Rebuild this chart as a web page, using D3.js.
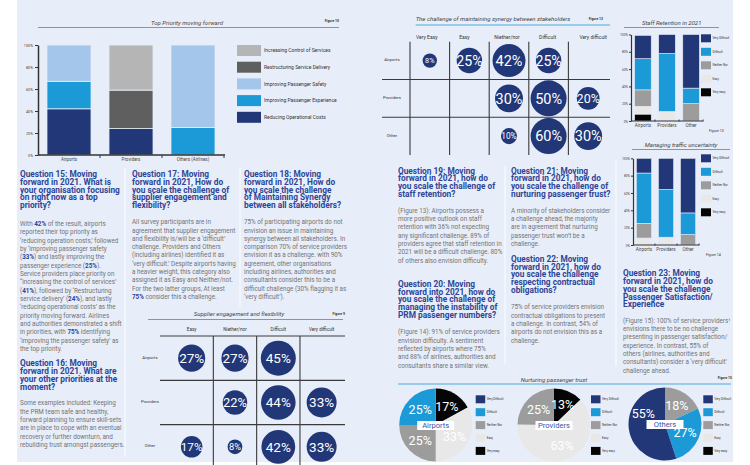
<!DOCTYPE html>
<html><head><meta charset="utf-8">
<script src="https://cdn.jsdelivr.net/npm/d3@7"></script>
<style>
body{margin:0;background:#fff}
svg{display:block}
text{font-family:Roboto,"Noto Sans",Arial,sans-serif}
.hd{font-size:8.3px;font-weight:700;fill:#2c4597}
.bd{font-size:6.3px;fill:#737373}
.ft{font-size:6px;font-style:italic;fill:#444}
.fl{font-size:3.4px;font-weight:700;fill:#333}
.ax text{font-size:3.8px;fill:#444}
.ax path,.ax line{stroke:#333}
</style>
</head><body><svg id="c" width="750" height="465"></svg>
<script>
// ---------------- DATA ----------------
// Figure 10 – Top priority moving forward (stack bottom -> top)
const priorityCategories = ["Airports","Providers","Others (Airlines)"];
const prioritySeries = ["Reducing Operational Costs","Improving Passenger Experience","Improving Passenger Safety","Restructuring Service Delivery","Increasing Control of Services"];
const priorityReducing      = [42, 24, 0];
const priorityExperience    = [25, 0, 25];
const prioritySafety        = [33, 0, 75];
const priorityRestructuring = [0, 35, 0];
const priorityControl       = [0, 41, 0];
const priorityLegendOrder = ["Increasing Control of Services","Restructuring Service Delivery","Improving Passenger Safety","Improving Passenger Experience","Reducing Operational Costs"];
const percentTickValues = [0,20,40,60,80,100];
const percentTickLabels = ["0%","20%","40%","60%","80%","100%"];

// Figure 9 – Supplier engagement and flexibility
const supplierColumns = ["Easy","Niether/nor","Difficult","Very difficult"];
const supplierRows = ["Airports","Providers","Other"];
const supplierAirports  = [27, 27, 45, null];
const supplierProviders = [null, 22, 44, 33];
const supplierOther     = [17, 8, 42, 33];

// Figure 12 – Maintaining synergy between stakeholders
const synergyColumns = ["Very Easy","Easy","Niether/nor","Difficult","Very difficult"];
const synergyRows = ["Airports","Providers","Other"];
const synergyAirports  = [8, 25, 42, 25, null];
const synergyProviders = [null, null, 30, 50, 20];
const synergyOther     = [null, null, 10, 60, 30];

// Figures 13 & 14 – stacked (bottom -> top)
const challengeSeries = ["Very easy","Easy","Neither Nor","Difficult","Very Difficult"];
const challengeLegend = ["Very Difficult","Difficult","Neither Nor","Easy","Very easy"];
const smallCategories = ["Airports","Providers","Other"];
const staffVeryEasy      = [8, 0, 0];
const staffEasy          = [9, 11, 0];
const staffNeither       = [19, 0, 20];
const staffDifficult     = [36, 67, 18];
const staffVeryDifficult = [27, 22, 62];
const trafficVeryEasy      = [0, 0, 0];
const trafficEasy          = [8, 9, 0];
const trafficNeither       = [17, 0, 12];
const trafficDifficult     = [58, 55, 25];
const trafficVeryDifficult = [17, 36, 63];

// Figure 15 – Nurturing passenger trust (clockwise from top, same order as challengeSeries)
const trustCategories = ["Airports","Providers","Others"];
const trustAirports  = [17, 33, 25, 25, 0];
const trustProviders = [13, 63, 25, 0, 0];
const trustOthers    = [0, 0, 18, 27, 55];

// ---------------- STYLE ----------------
const C = {navy:"#223778", blue:"#1b9ad7", light:"#a3c6ea", dgrey:"#5f5f5f", lgrey:"#b5b5b5",
  grey:"#9c9c9c", vlgrey:"#e8e8e8", black:"#050505", rule:"#4aa9dd", bg:"#e8eef9", line:"#3a3a3a"};
const priorityColor = d3.scaleOrdinal().domain(prioritySeries).range([C.navy,C.blue,C.light,C.dgrey,C.lgrey]);
const challengeColor = d3.scaleOrdinal().domain(challengeSeries).range([C.black,C.vlgrey,C.grey,C.blue,C.navy]);

const svg = d3.select("#c");
svg.append("rect").attr("x",17).attr("y",0).attr("width",716).attr("height",462).attr("fill",C.bg);

// column dividers
[[125,168,457],[240,168,306],[505,166,364],[616,160,366]].forEach(([x,a,b])=>
  svg.append("line").attr("x1",x).attr("x2",x).attr("y1",a).attr("y2",b).attr("stroke","#fafcff").attr("stroke-width",1));

// ---------------- HELPERS ----------------
function textBlock(x, y, lh, lines, cls){
  const t = svg.append("text").attr("class",cls).attr("x",x).attr("y",y);
  lines.forEach((ln,i)=>{
    const parts = ln.split(/(\*\*[^*]+\*\*)/).filter(s=>s.length);
    parts.forEach((p,j)=>{
      const ts = t.append("tspan");
      if(j===0) ts.attr("x",x).attr("dy", i===0?0:lh);
      if(p.startsWith("**")) ts.text(p.slice(2,-2)).attr("font-weight",700).attr("fill","#2c4597");
      else ts.text(p);
    });
  });
}
function figTitle(cx, ty, txt, x1, x2, ly, fig, fx, fy){
  svg.append("text").attr("class","ft").attr("x",cx).attr("y",ty).attr("text-anchor","middle").text(txt);
  svg.append("line").attr("x1",x1).attr("x2",x2).attr("y1",ly).attr("y2",ly).attr("stroke",C.rule).attr("stroke-width",1);
  svg.append("text").attr("class","fl").attr("x",fx).attr("y",fy).attr("text-anchor","end").text(fig);
}

// ---------------- FIGURE 10 ----------------
figTitle(187, 24.5, "Top Priority moving forward", 38, 339, 27.5, "Figure 10", 339, 21.5);
(function(){
  const x = d3.scaleBand().domain(priorityCategories).range([38,224]).paddingInner(0.29).paddingOuter(0.145);
  const y = d3.scaleLinear().domain([0,100]).range([155,45]);
  const vals = [priorityReducing,priorityExperience,prioritySafety,priorityRestructuring,priorityControl];
  const rows = priorityCategories.map((c,i)=>{const o={cat:c}; prioritySeries.forEach((s,k)=>o[s]=vals[k][i]); return o;});
  const stacked = d3.stack().keys(prioritySeries)(rows);
  svg.append("g").selectAll("g").data(stacked).join("g").attr("fill",d=>priorityColor(d.key))
    .selectAll("rect").data(d=>d.filter(s=>s[1]-s[0]>0)).join("rect")
    .attr("x",d=>x(d.data.cat)).attr("width",x.bandwidth())
    .attr("y",d=>y(d[1])).attr("height",d=>y(d[0])-y(d[1]))
    .attr("stroke","#e6edf8").attr("stroke-width",0.8);
  const ay = svg.append("g").attr("class","ax").attr("transform","translate(38,0)")
    .call(d3.axisLeft(y).tickValues(percentTickValues).tickFormat((d,i)=>percentTickLabels[i]).tickSizeInner(3).tickSizeOuter(0).tickPadding(2));
  ay.select(".domain").attr("stroke-width",1.5);
  const ax = svg.append("g").attr("class","ax").attr("transform","translate(0,155)")
    .call(d3.axisBottom(x).tickSize(0).tickPadding(3));
  ax.select(".domain").attr("stroke-width",1.5).attr("d","M38,0H225");
  ax.selectAll("text").style("font-size","4.5px");
  priorityCategories.forEach(c=>{
    const sx = x(c)+x.bandwidth()+x.step()*x.paddingInner()/2;
    svg.append("line").attr("x1",sx).attr("x2",sx).attr("y1",155).attr("y2",158).attr("stroke",C.line).attr("stroke-width",1);
  });
  // legend
  const lg = svg.append("g").selectAll("g").data(priorityLegendOrder).join("g")
    .attr("transform",(d,i)=>`translate(237,${45+i*16.7})`);
  lg.append("rect").attr("width",24).attr("height",11).attr("fill",d=>priorityColor(d));
  lg.append("text").attr("x",27).attr("y",5.5).attr("dy","0.35em").style("font-size","5px").attr("fill","#333").text(d=>d);
})();

// ---------------- TEXT: LEFT PAGE ----------------
textBlock(20,177.3,7.7,["Question 15: Moving","forward in 2021. What is","your organisation focusing","on right now as a top","priority?"],"hd");
textBlock(20,226,8.33,[
 "With **42%** of the result, airports",
 "reported their top priority as",
 "‘reducing operation costs,’ followed",
 "by ‘improving passenger safety",
 "(**33%**) and lastly improving the",
 "passenger experience (**25%**).",
 "Service providers place priority on",
 "“increasing the control of services’",
 "(**41%**), followed by ‘Restructuring",
 "service delivery’ (**24%**), and lastly",
 "‘reducing operational costs’ as the",
 "priority moving forward. Airlines",
 "and authorities demonstrated a shift",
 "in priorities, with **75%** identifying",
 "‘improving the passenger safety’ as",
 "the top priority."],"bd");
textBlock(20,366.3,7.9,["Question 16: Moving","forward in 2021. What are","your other priorities at the","moment?"],"hd");
textBlock(20,405.3,8.33,[
 "Some examples included: Keeping",
 "the PRM team safe and healthy,",
 "forward planning to ensure skill-sets",
 "are in place to cope with an eventual",
 "recovery or further downturn, and",
 "rebuilding trust amongst passengers."],"bd");
textBlock(132,177.3,7.7,["Question 17: Moving","forward in 2021, How do","you scale the challenge of","supplier engagement and","flexibility?"],"hd");
textBlock(132,224.3,8.28,[
 "All survey participants are in",
 "agreement that supplier engagement",
 "and flexibility is/will be a ‘difficult’",
 "challenge. Providers and Others",
 "(including airlines) identified it as",
 "‘very difficult.’ Despite airports having",
 "a heavier weight, this category also",
 "assigned it as Easy and Neither/not.",
 "For the two latter groups, At least",
 "**75%** consider this a challenge."],"bd");
textBlock(244,177.3,7.7,["Question 18: Moving","forward in 2021, How do","you scale the challenge","of Maintaining Synergy","between all stakeholders?"],"hd");
textBlock(244,224.3,8.28,[
 "75% of participating airports do not",
 "envision an issue in maintaining",
 "synergy between all stakeholders. In",
 "comparison 70% of service providers",
 "envision it as a challenge. with 90%",
 "agreement, other organisations",
 "including airlines, authorities and",
 "consultants consider this to be a",
 "difficult challenge (30% flagging it as",
 "‘very difficult’)."],"bd");

// ---------------- BUBBLE MATRICES ----------------
function bubbleMatrix(o){
  const x = d3.scaleBand().domain(o.cols).range(o.xRange);
  const y = d3.scaleBand().domain(o.rows).range(o.yRange);
  const g = svg.append("g");
  o.cols.forEach((c,i)=>{ if(i>0 || o.firstV){
    g.append("line").attr("x1",x(c)).attr("x2",x(c)).attr("y1",o.vY[0]).attr("y2",o.vY[1]).attr("stroke",C.line).attr("stroke-width",1.1);}});
  o.rows.forEach((r,i)=>{ if(i>0 || o.firstH){
    g.append("line").attr("x1",o.hX[0]).attr("x2",o.hX[1]).attr("y1",y(r)).attr("y2",y(r)).attr("stroke",C.line).attr("stroke-width",1.1);}});
  g.selectAll(".ch").data(o.cols).join("text").attr("x",(d,i)=>x(d)+x.bandwidth()/2+(o.headerShift?o.headerShift[i]:0))
    .attr("y",o.headerY).attr("text-anchor","middle").style("font-size",o.headerSize+"px").attr("fill","#333").text(d=>d);
  g.selectAll(".rl").data(o.rows).join("text").attr("x",o.rowLabelX).attr("y",d=>y(d)+y.bandwidth()/2-1)
    .attr("text-anchor","middle").attr("dy","0.35em").style("font-size","4.3px").attr("fill","#333").text(d=>d);
  const cells = [];
  o.rows.forEach((r,ri)=>o.values[ri].forEach((v,ci)=>{ if(v!=null) cells.push({r,c:o.cols[ci],v}); }));
  const cg = g.selectAll(".b").data(cells).join("g")
    .attr("transform",d=>`translate(${x(d.c)+x.bandwidth()/2},${y(d.r)+y.bandwidth()/2})`);
  cg.append("circle").attr("r",d=>o.r(d.v)).attr("fill",C.navy);
  cg.append("text").attr("text-anchor","middle").attr("dy","0.36em").attr("fill","#fff")
    .style("font-size",d=>o.f(o.r(d.v))+"px").text(d=>d.v+"%");
}
figTitle(239, 316, "Supplier engagement and flexibility", 148, 343, 319.5, "Figure 9", 345, 315);
bubbleMatrix({cols:supplierColumns, rows:supplierRows, values:[supplierAirports,supplierProviders,supplierOther],
  xRange:[170,343.3], yRange:[336,469], vY:[336,465], hX:[160,345], firstV:false, firstH:true,
  headerY:331, headerSize:4.6, rowLabelX:150,
  r:d3.scaleSqrt().domain([0,45]).range([0,17.5]).clamp(true),
  f:d3.scaleLinear().domain([7,13]).range([9,13.5]).clamp(true)});

figTitle(493, 20.5, "The challenge of maintaining synergy between stakeholders", 415.7, 610, 25, "Figure 12", 603, 20);
bubbleMatrix({cols:synergyColumns, rows:synergyRows, values:[synergyAirports,synergyProviders,synergyOther],
  xRange:[410,608], yRange:[41.7,155], vY:[41.7,155], hX:[382,610], firstV:true, firstH:false,
  headerY:39, headerSize:5, rowLabelX:392, headerShift:[-3,-5,-2,-1,5],
  r:d3.scaleSqrt().domain([0,50]).range([0,18]).clamp(true),
  f:d3.scaleLinear().domain([7,13]).range([7,14.5]).clamp(true)});

// ---------------- SMALL STACKED CHARTS ----------------
function stackedSmall(o){
  const x = d3.scaleBand().domain(smallCategories).range(o.xRange).paddingInner(0.31).paddingOuter(0.15);
  const y = d3.scaleLinear().domain([0,100]).range(o.yRange);
  const rows = smallCategories.map((c,i)=>{const r={cat:c}; challengeSeries.forEach((s,k)=>r[s]=o.vals[k][i]); return r;});
  const stacked = d3.stack().keys(challengeSeries)(rows);
  svg.append("g").selectAll("g").data(stacked).join("g").attr("fill",d=>challengeColor(d.key))
    .selectAll("rect").data(d=>d.filter(s=>s[1]-s[0]>0)).join("rect")
    .attr("x",d=>x(d.data.cat)).attr("width",x.bandwidth())
    .attr("y",d=>y(d[1])).attr("height",d=>y(d[0])-y(d[1]))
    .attr("stroke","#e6edf8").attr("stroke-width",0.6);
  const ay = svg.append("g").attr("class","ax").attr("transform",`translate(${o.xRange[0]},0)`)
    .call(d3.axisLeft(y).tickValues(percentTickValues).tickFormat((d,i)=>percentTickLabels[i]).tickSizeInner(2).tickSizeOuter(0).tickPadding(1));
  ay.selectAll("text").style("font-size","3.3px");
  ay.select(".domain").attr("stroke-width",1.2);
  const ax = svg.append("g").attr("class","ax").attr("transform",`translate(0,${o.yRange[0]})`)
    .call(d3.axisBottom(x).tickSize(0).tickPadding(2.5));
  ax.select(".domain").attr("stroke-width",1.2).attr("d",`M${o.xRange[0]},0H${o.xRange[1]}`);
  ax.selectAll("text").style("font-size","4.6px");
  smallCategories.forEach(c=>{
    const sx = x(c)+x.bandwidth()+x.step()*x.paddingInner()/2;
    svg.append("line").attr("x1",sx).attr("x2",sx).attr("y1",o.yRange[0]-1.5).attr("y2",o.yRange[0]+0.5).attr("stroke",C.line).attr("stroke-width",1);
  });
  const lg = svg.append("g").selectAll("g").data(challengeLegend).join("g")
    .attr("transform",(d,i)=>`translate(701,${o.legendY+i*13.5-4})`);
  lg.append("rect").attr("width",10).attr("height",8).attr("fill",d=>challengeColor(d));
  lg.append("text").attr("x",11.5).attr("y",4).attr("dy","0.35em").style("font-size","3px").attr("fill","#333").text(d=>d);
}
figTitle(671.7, 25, "Staff Retention in 2021", 624, 719, 27.5, "", 0, 0);
stackedSmall({xRange:[631,703], yRange:[121,34.5], legendY:38.3,
  vals:[staffVeryEasy,staffEasy,staffNeither,staffDifficult,staffVeryDifficult]});
svg.append("text").attr("x",709).attr("y",131.5).style("font-size","3.6px").attr("fill","#333").text("Figure 13");

figTitle(681, 147, "Managing traffic uncertainty", 632, 730, 149.5, "", 0, 0);
stackedSmall({xRange:[633,699], yRange:[245,158.3], legendY:158.3,
  vals:[trafficVeryEasy,trafficEasy,trafficNeither,trafficDifficult,trafficVeryDifficult]});
svg.append("text").attr("x",706).attr("y",256).style("font-size","3.6px").attr("fill","#333").text("Figure 14");

// ---------------- TEXT: RIGHT PAGE ----------------
textBlock(398,173.7,7.7,["Question 19: Moving","forward in 2021, how do","you scale the challenge of","staff retention?"],"hd");
textBlock(398,212.7,8.33,[
 "(Figure 13): Airports possess a",
 "more positive outlook on staff",
 "retention with 36% not expecting",
 "any significant challenge. 89% of",
 "providers agree that staff retention in",
 "2021 will be a difficult challenge. 80%",
 "of others also envision difficulty."],"bd");
textBlock(398,287,7.7,["Question 20: Moving","forward into 2021, how do","you scale the challenge of","managing the instability of","PRM passenger numbers?"],"hd");
textBlock(398,334.3,8.33,[
 "(Figure 14): 91% of service providers",
 "envision difficulty. A sentiment",
 "reflected by airports where 75%",
 "and 88% of airlines, authorities and",
 "consultants share a similar view."],"bd");
textBlock(511,173.7,7.7,["Question 21: Moving","forward in 2021, how do","you scale the challenge of","nurturing passenger trust?"],"hd");
textBlock(511,212.7,8.33,[
 "A minority of stakeholders consider",
 "a challenge ahead, the majority",
 "are in agreement that nurturing",
 "passenger trust won’t be a",
 "challenge."],"bd");
textBlock(511,262,7.7,["Question 22: Moving","forward in 2021, how do","you scale the challenge","respecting contractual","obligations?"],"hd");
textBlock(511,309.3,8.33,[
 "75% of service providers envision",
 "contractual obligations to present",
 "a challenge. In contrast, 54% of",
 "airports do not envision this as a",
 "challenge."],"bd");
textBlock(623,276.3,7.75,["Question 23: Moving","forward in 2021, how do","you scale the challenge","Passenger Satisfaction/","Experience"],"hd");
textBlock(623,322.7,8.33,[
 "(Figure 15): 100% of service providers¹",
 "envisions there to be no challenge",
 "presenting in passenger satisfaction/",
 "experience. In contrast, 55% of",
 "others (airlines, authorities and",
 "consultants) consider a ‘very difficult’",
 "challenge ahead."],"bd");

// ---------------- FIGURE 15 PIES ----------------
figTitle(554, 381.5, "Nurturing passenger trust", 398, 731, 384, "Figure 15", 732, 378.5);
(function(){
  const pies = [trustAirports,trustProviders,trustOthers];
  const centers = [[435.7,425],[554,425],[665,424]];
  const legendX = [475.7,591,703.3];
  const R = 36.5;
  const pie = d3.pie().sort(null).value(d=>d.v);
  const arc = d3.arc().innerRadius(0).outerRadius(R);
  const labelArc = d3.arc().innerRadius(R*0.6).outerRadius(R*0.6);
  pies.forEach((vals,pi)=>{
    const [cx,cy] = centers[pi];
    const g = svg.append("g").attr("transform",`translate(${cx},${cy})`);
    const arcs = pie(challengeSeries.map((s,k)=>({s,v:vals[k]})));
    g.selectAll("path").data(arcs).join("path").attr("d",arc).attr("fill",d=>challengeColor(d.data.s));
    // category box
    g.append("rect").attr("x",-18.5).attr("y",-4).attr("width",37).attr("height",9).attr("fill","#fff");
    g.append("text").attr("y",0.5).attr("dy","0.35em").attr("text-anchor","middle").style("font-size","7.6px").attr("fill","#3553a8").text(trustCategories[pi]);
    g.selectAll(".pl").data(arcs.filter(d=>d.data.v>0)).join("text")
      .attr("transform",d=>{const [lx,ly]=labelArc.centroid(d); const yy = Math.abs(ly)<8 ? ly-14 : ly; return `translate(${lx},${yy})`;})
      .attr("text-anchor","middle").attr("dy","0.36em").attr("fill","#fff").style("font-size","12.5px").text(d=>d.data.v+"%");
    const lg = svg.append("g").selectAll("g").data(challengeLegend).join("g")
      .attr("transform",(d,i)=>`translate(${legendX[pi]},${399.3+i*12.9-4})`);
    lg.append("rect").attr("width",9.5).attr("height",8).attr("fill",d=>challengeColor(d));
    lg.append("text").attr("x",11).attr("y",4).attr("dy","0.35em").style("font-size","3px").attr("fill","#333").text(d=>d);
  });
})();
</script></body></html>
